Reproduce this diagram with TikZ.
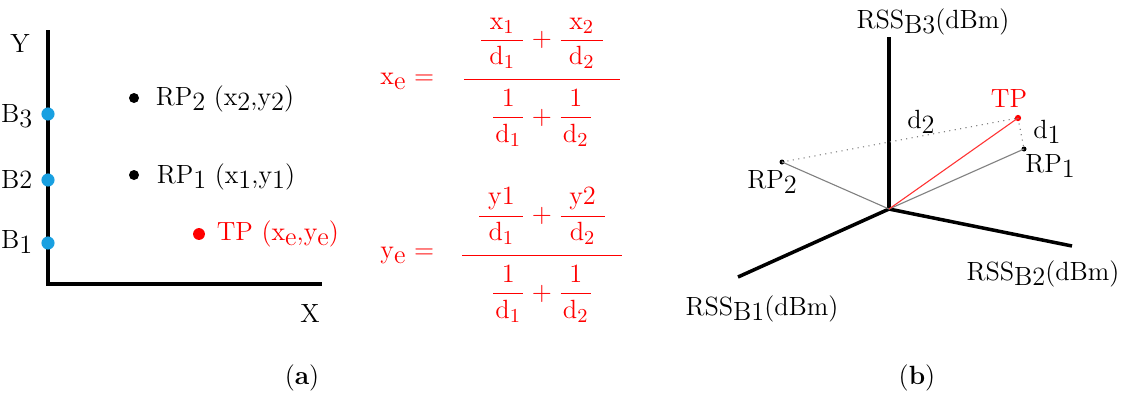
\documentclass[tikz,border=0pt]{standalone}
\usepackage{amsmath}
\usepackage{xcolor}
\definecolor{bsblue}{RGB}{25,160,225}
\newcommand{\lo}[1]{\raisebox{-0.45ex}{#1}}
\newcommand{\sfr}[2]{\dfrac{\mkern6mu#1\mkern6mu}{#2}}
\newcommand{\dn}{\rule[-5pt]{0pt}{0pt}}
\newcommand{\up}{\rule{0pt}{10.5pt}}

\begin{document}
\begin{tikzpicture}[x=0.016cm,y=-0.016cm,font=\fontsize{12}{14}\selectfont,
    axis/.style={line width=1.6pt},
    thin line/.style={line width=0.5pt},
    dot/.style={circle,fill,inner sep=0pt,minimum size=#1}]
  \useasboundingbox (0,0) rectangle (1129,398);
  % (a)
  \coordinate (Ytop) at (48,30);
  \coordinate (Org) at (48,284);
  \coordinate (Xend) at (322,284);
  \draw[axis] (Ytop) -- (Org) -- (Xend);
  \node (Ylab) at (20,43) {Y};
  \node (Xlab) at (310,313) {X};
  \node[dot=0.21cm,bsblue] (B3) at (48,114) {};
  \node[dot=0.21cm,bsblue] (B2) at (48,180) {};
  \node[dot=0.21cm,bsblue] (B1) at (48,243) {};
  \node[anchor=base east] (B3lab) at (40,122) {B\lo{3}};
  \node[anchor=base east] (B2lab) at (40,188) {B2};
  \node[anchor=base east] (B1lab) at (40,248) {B\lo{1}};
  \node[dot=0.16cm] (RPtwo) at (134,98) {};
  \node[dot=0.16cm] (RPone) at (134,175) {};
  \node[dot=0.19cm,red] (TPa) at (199,234) {};
  \node[anchor=base west] (RPtwolab) at (148,105) {RP\lo{2} (x\lo{2},y\lo{2})};
  \node[anchor=base west] (RPonelab) at (149,183) {RP\lo{1} (x\lo{1},y\lo{1})};
  \node[anchor=base west,red] (TPalab) at (209,240) {TP (x\lo{e},y\lo{e})};
  \node (capa) at (302,378) {(\textbf{a})};
  % formulas
  \node[red,anchor=base east] (xe) at (442,84) {x\lo{e} =};
  \node[red,font=\fontsize{13}{15}\selectfont] (xefrac) at (542,82)
    {$\dfrac{\mkern10mu\sfr{\mathrm{x}_1}{\mathrm{d}_1\dn}+\sfr{\mathrm{x}_2}{\mathrm{d}_2}\mkern10mu}
      {\sfr{\up1}{\mathrm{d}_1}+\sfr{1}{\mathrm{d}_2}}$};
  \node[red,anchor=base east] (ye) at (442,258) {y\lo{e} =};
  \node[red,font=\fontsize{13}{15}\selectfont] (yefrac) at (542,255)
    {$\dfrac{\mkern10mu\sfr{\mathrm{y}1}{\mathrm{d}_1\dn}+\sfr{\mathrm{y}2}{\mathrm{d}_2}\mkern10mu}
      {\sfr{\up1}{\mathrm{d}_1}+\sfr{1}{\mathrm{d}_2}}$};
  % (b)
  \coordinate (Cen) at (889,209);
  \coordinate (Athree) at (889,37);
  \coordinate (Aone) at (738,277);
  \coordinate (Atwo) at (1072,246);
  \draw[axis] (Cen) -- (Athree);
  \draw[axis] (Cen) -- (Aone);
  \draw[axis] (Cen) -- (Atwo);
  \node[anchor=base] (RSSthree) at (933,28) {RSS\lo{B3}(dBm)};
  \node[anchor=base] (RSStwo) at (1043,280) {RSS\lo{B2}(dBm)};
  \node[anchor=base] (RSSone) at (762,315) {RSS\lo{B1}(dBm)};
  \node[dot=0.08cm] (Ptwo) at (782,162) {};
  \node[dot=0.08cm] (Pone) at (1024,149) {};
  \node[dot=0.1cm,red] (TPb) at (1018,118) {};
  \draw[thin line,gray] (Cen) -- (Ptwo.center);
  \draw[thin line,gray] (Cen) -- (Pone.center);
  \draw[thin line,red!80] (Cen) -- (TPb.center);
  \draw[thin line,gray,dotted] (Ptwo.center) -- (TPb.center);
  \draw[thin line,gray,dotted] (TPb.center) -- (Pone.center);
  \node[anchor=base] (Ptwolab) at (772,188) {RP\lo{2}};
  \node[anchor=base] (Ponelab) at (1050,172) {RP\lo{1}};
  \node[anchor=base,red] (TPblab) at (1009,107) {TP};
  \node[anchor=base] (dtwo) at (921,128) {d\lo{2}};
  \node[anchor=base] (done) at (1047,138) {d\lo{1}};
  \node (capb) at (917,378) {(\textbf{b})};
\end{tikzpicture}
\end{document}
